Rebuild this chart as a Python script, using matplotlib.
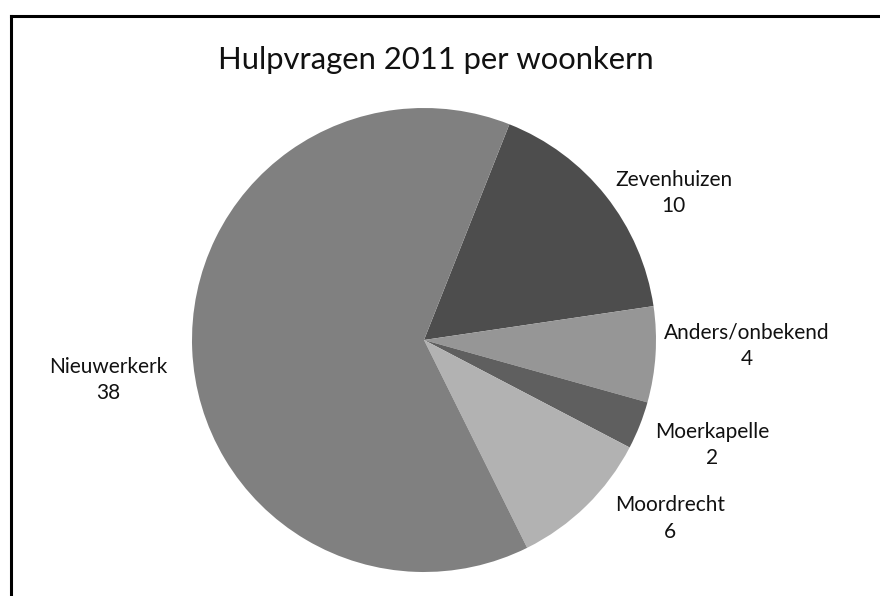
import matplotlib
matplotlib.use("Agg")
import matplotlib.pyplot as plt
import numpy as np
from matplotlib.lines import Line2D

title = "Hulpvragen 2011 per woonkern"
categories = ["Zevenhuizen", "Anders/onbekend", "Moerkapelle", "Moordrecht", "Nieuwerkerk"]
values = [10, 4, 2, 6, 38]
colors = ["#4d4d4d", "#969696", "#5f5f5f", "#b2b2b2", "#808080"]
label_dist = [1.25, 1.39, 1.32, 1.31, 1.37]
label_angle_shift = [-7.9, 2.6, 1.6, 9.6, 4.8]

plt.rcParams['font.family'] = ['Lato', 'DejaVu Sans']

W, H = 880, 596
fig = plt.figure(figsize=(W / 100, H / 100), dpi=100)
fig.patch.set_facecolor("white")

cx, cy, r = 424, 340, 232
ax = fig.add_axes([(cx - r) / W, (H - cy - r) / H, 2 * r / W, 2 * r / H])
start = 90 - 21.6
wedges, _ = ax.pie(values, colors=colors, startangle=start, counterclock=False,
                   radius=1, wedgeprops=dict(linewidth=0))
ax.set_xlim(-1, 1)
ax.set_ylim(-1, 1)
ax.set_aspect("equal")
ax.axis("off")

for w, cat, v, d, s in zip(wedges, categories, values, label_dist, label_angle_shift):
    mid = (w.theta1 + w.theta2) / 2 + s
    x = d * np.cos(np.deg2rad(mid))
    y = d * np.sin(np.deg2rad(mid))
    ax.text(x, y, f"{cat}\n{v}", ha="center", va="center", fontsize=15,
            linespacing=1.4, color="#111111", clip_on=False)

fig.text(436 / W, 1 - 60 / H, title, ha="center", va="center", fontsize=22.3, color="#111111")

# chart frame (left and top edges visible)
lw = 2.2
fig.add_artist(Line2D([10.5 / W, 10.5 / W], [0, 1 - 15.5 / H], color="black", lw=lw,
                      transform=fig.transFigure, solid_capstyle="projecting"))
fig.add_artist(Line2D([10.5 / W, 1], [1 - 15.5 / H, 1 - 15.5 / H], color="black", lw=lw,
                      transform=fig.transFigure, solid_capstyle="projecting"))

fig.savefig("out.png", dpi=100)
